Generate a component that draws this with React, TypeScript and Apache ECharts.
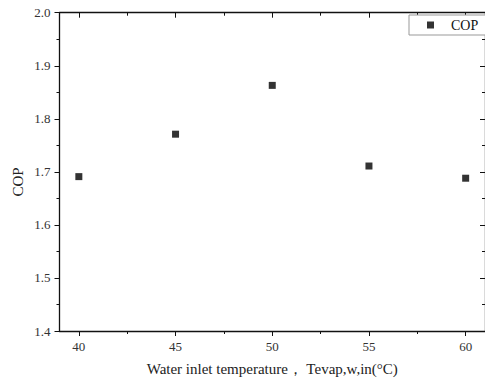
import React, { useEffect, useRef } from "react";
import * as echarts from "echarts";

const temps = [40, 45, 50, 55, 60];
const copValues = [1.691, 1.771, 1.863, 1.711, 1.688];
const xMajorTicks = [40, 45, 50, 55, 60];
const xMinorTicks = [42.5, 47.5, 52.5, 57.5];
const xLabel = "Water inlet temperature\uFF0C Tevap,w,in(\u00B0C)";
const yLabel = "COP";
const seriesName = "COP";

const FONT = "'Liberation Serif', 'Times New Roman', serif";

export default function App() {
  const ref = useRef<HTMLDivElement>(null);
  useEffect(() => {
    if (!ref.current) return;
    const chart = echarts.init(ref.current, null, { renderer: "svg" });
    const line = { show: true, lineStyle: { color: "#111", width: 1.3 } };
    const xCommon = { type: "value", min: 39, max: 61, splitLine: { show: false } };
    const yCommon = {
      type: "value",
      min: 1.4,
      max: 2.0,
      interval: 0.1,
      splitLine: { show: false },
    };
    chart.setOption({
      animation: false,
      textStyle: { fontFamily: FONT },
      grid: { left: 59.5, top: 12.7, width: 426.8, height: 318.3, containLabel: false },
      legend: {
        show: true,
        left: 409,
        top: 15,
        orient: "horizontal",
        icon: "rect",
        itemWidth: 7,
        itemHeight: 7,
        padding: [3, 40, 3, 18],
        borderColor: "#999",
        borderWidth: 1,
        backgroundColor: "#fff",
        textStyle: { fontFamily: FONT, fontSize: 14, color: "#111", padding: [0, 0, 0, 12] },
        data: [seriesName],
      },
      xAxis: [
        {
          ...xCommon,
          position: "bottom",
          name: xLabel,
          nameLocation: "middle",
          nameGap: 30,
          nameTextStyle: { fontFamily: FONT, fontSize: 15, color: "#222" },
          axisLine: line,
          axisTick: { show: true, inside: false, length: 5, customValues: xMajorTicks, lineStyle: { color: "#111" } },
          axisLabel: { show: true, customValues: xMajorTicks, margin: 9, fontFamily: FONT, fontSize: 13, color: "#333" },
        },
        {
          ...xCommon,
          position: "bottom",
          axisLine: { show: false },
          axisTick: { show: true, inside: false, length: 3, customValues: xMinorTicks, lineStyle: { color: "#111" } },
          axisLabel: { show: false },
        },
        {
          ...xCommon,
          position: "top",
          axisLine: line,
          axisTick: { show: true, inside: true, length: 5, customValues: xMajorTicks, lineStyle: { color: "#111" } },
          axisLabel: { show: false },
        },
        {
          ...xCommon,
          position: "top",
          axisLine: { show: false },
          axisTick: { show: true, inside: true, length: 3, customValues: xMinorTicks, lineStyle: { color: "#111" } },
          axisLabel: { show: false },
        },
      ],
      yAxis: [
        {
          ...yCommon,
          position: "left",
          axisLine: line,
          axisTick: { show: true, inside: false, length: 5, lineStyle: { color: "#111" } },
          minorTick: { show: true, splitNumber: 2, length: 3, lineStyle: { color: "#111" } },
          axisLabel: {
            show: true,
            margin: 9,
            fontFamily: FONT,
            fontSize: 13,
            color: "#333",
            formatter: (v: number) => v.toFixed(1),
          },
        },
        {
          ...yCommon,
          position: "right",
          axisLine: line,
          axisTick: { show: true, inside: true, length: 5, lineStyle: { color: "#111" } },
          minorTick: { show: true, splitNumber: 2, length: 3, lineStyle: { color: "#111" } },
          axisLabel: { show: false },
        },
      ],
      graphic: [
        {
          type: "text",
          x: 18,
          y: 182,
          rotation: Math.PI / 2,
          style: {
            text: yLabel,
            fontFamily: FONT,
            fontSize: 15,
            fill: "#222",
            textAlign: "center",
            textVerticalAlign: "middle",
          },
        },
      ],
      series: [
        {
          name: seriesName,
          type: "scatter",
          xAxisIndex: 0,
          yAxisIndex: 0,
          symbol: "rect",
          symbolSize: 7,
          itemStyle: { color: "#000" },
          data: temps.map((t, i) => [t, copValues[i]]),
        },
      ],
    });
    return () => chart.dispose();
  }, []);
  return (
    <div
      ref={ref}
      style={{ position: "fixed", left: 0, top: 0, width: 485, height: 382, background: "#fff" }}
    />
  );
}
